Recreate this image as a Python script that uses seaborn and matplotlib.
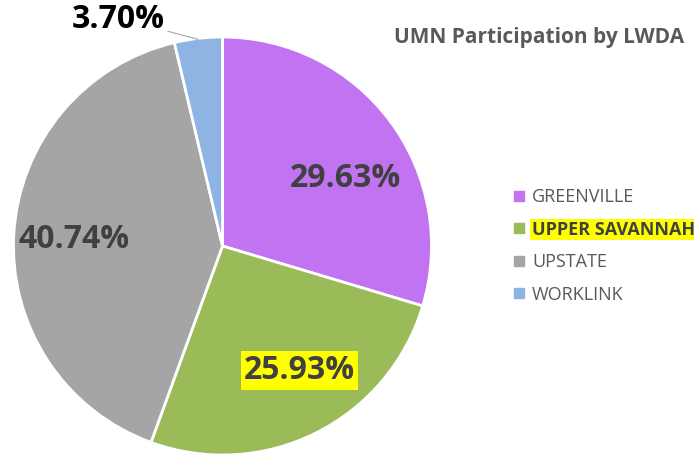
import numpy as np
import matplotlib
matplotlib.use('Agg')
import matplotlib.pyplot as plt
import seaborn as sns
from matplotlib.lines import Line2D

sns.set_style('white')
plt.rcParams['font.family'] = ['Open Sans', 'DejaVu Sans']

regions = ['GREENVILLE', 'UPPER SAVANNAH', 'UPSTATE', 'WORKLINK']
shares = [29.63, 25.93, 40.74, 3.70]
colors = ['#C273F2', '#9BBB59', '#A5A5A5', '#8DB4E2']

# label placement (radius, angle offset in deg) per slice
label_r = [0.67, 0.70, 0.71, 1.19]
label_shift = [-8, 5, 1, 18]

fig = plt.figure(figsize=(6.94, 4.54), dpi=100)
ax = fig.add_axes([13.5 / 694, -1 / 454, 418 / 694, 418 / 454])

wedges, _ = ax.pie(shares, colors=colors, startangle=90, counterclock=False,
                   radius=1, wedgeprops=dict(edgecolor='white', linewidth=2))
ax.set_xlim(-1, 1)
ax.set_ylim(-1, 1)

for i, w in enumerate(wedges):
    mid_deg = (w.theta1 + w.theta2) / 2
    mid = np.deg2rad(mid_deg + label_shift[i])
    x, y = label_r[i] * np.cos(mid), label_r[i] * np.sin(mid)
    txt = f'{shares[i]:.2f}%'
    if i == 1:
        ax.text(x, y, txt, ha='center', va='center', fontsize=23, fontweight='bold',
                color='#404040', bbox=dict(facecolor='#FFFF00', edgecolor='none', pad=2))
    elif i == 3:
        a0, a1 = np.deg2rad(mid_deg), np.deg2rad(mid_deg + 7.6)
        ax.plot([0.995 * np.cos(a0), 1.06 * np.cos(a1)], [0.995 * np.sin(a0), 1.06 * np.sin(a1)],
                color='#A6A6A6', lw=0.8, clip_on=False)
        ax.text(x, y, txt, ha='center', va='center', fontsize=23, fontweight='bold',
                color='black', clip_on=False)
    else:
        ax.text(x, y, txt, ha='center', va='center', fontsize=23, fontweight='bold',
                color='#404040')

fig.text(539 / 694, 1 - 37 / 454, 'UMN Participation by LWDA', ha='center', va='center',
         fontsize=15, fontweight='bold', color='#595959')

handles = [Line2D([0], [0], marker='s', linestyle='none', markersize=7,
                  markerfacecolor=c, markeredgecolor=c) for c in colors]
leg = fig.legend(handles, regions, loc='upper left', bbox_to_anchor=(503 / 694, 1 - 181 / 454),
                 frameon=False, fontsize=13, labelspacing=0.8, handletextpad=0.2,
                 handlelength=1.0, borderaxespad=0)
for i, t in enumerate(leg.get_texts()):
    t.set_color('#595959')
    if i == 1:
        t.set_fontweight('bold')
        t.set_color('#404040')
        t.set_bbox(dict(facecolor='#FFFF00', edgecolor='none', pad=1))

fig.savefig('out.png', dpi=100)
